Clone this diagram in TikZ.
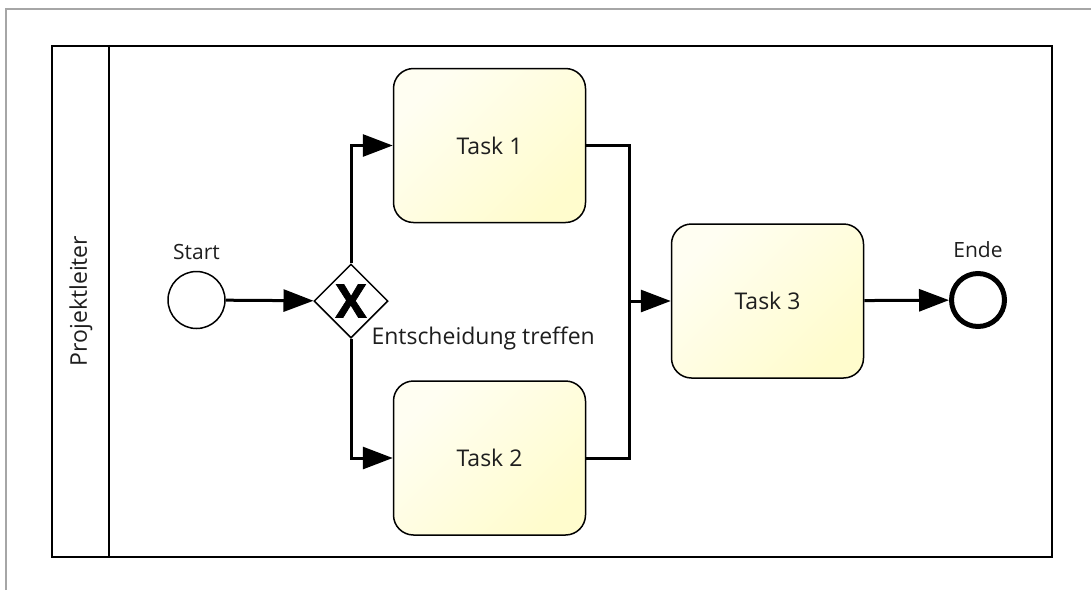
\documentclass[tikz,border=0pt]{standalone}
\usepackage{fontspec}
\setmainfont{Open Sans}
\newfontfamily\gwfont[FakeBold=1.5]{Open Sans}
\usetikzlibrary{shapes.geometric, arrows.meta}

\definecolor{taskfill}{RGB}{255,252,205}
\definecolor{txtcol}{RGB}{30,30,30}

\begin{document}
\begin{tikzpicture}[x=1pt, y=-1pt,
	txt/.style={text=txtcol, font=\fontsize{23}{27}\selectfont},
	small/.style={text=txtcol, font=\fontsize{21}{25}\selectfont},
	task/.style={draw, rounded corners=20pt, line width=1.5pt, minimum width=192pt, minimum height=154pt, left color=taskfill!25, right color=taskfill, shading angle=45, txt},
	event/.style={draw, circle, fill=white, inner sep=0pt},
	gate/.style={draw, diamond, fill=white, line width=1.5pt, minimum width=74pt, minimum height=74pt, inner sep=0pt},
	flow/.style={line width=3pt, -{Triangle[length=30pt,width=22pt]}}]
\useasboundingbox (0,0) rectangle (1091,590);
\draw[gray!70, line width=1.5pt] (6,590) -- (6,9) -- (1091,9);
	% pool with one lane
	\node[draw, line width=2.5pt, minimum width=1000pt, minimum height=511pt, inner sep=0pt] (pool) at (552,301.5) {};
	\draw[line width=2.5pt] ([xshift=58pt]pool.north west) -- ([xshift=58pt]pool.south west);
	\node[txt, rotate=90] (lane) at (81,301) {Projektleiter};
	%
	\node[event, line width=1.5pt, minimum size=57pt] (start) at (196.5,300) {};
	\node[small, above=8pt] (startlbl) at (start.north) {Start};
	\node[gate] (gw) at (351,301) {\gwfont\fontsize{46}{46}\selectfont\bfseries X};
	\node[txt, anchor=west] (gwlbl) at (368,338) {Entscheidung treffen};
	\node[task] (t1) at (489.5,145.5) {Task 1};
	\node[task] (t2) at (489.5,458) {Task 2};
	\node[task] (t3) at (767.5,301) {Task 3};
	\node[event, line width=5pt, minimum size=53pt] (ende) at (978,300) {};
	\node[small, above=10pt] (endelbl) at (ende.north) {Ende};
	\coordinate (join) at (629,301);
	%
	\draw[flow] (start) -- (gw);
	\draw[flow] (gw.north) |- (t1);
	\draw[flow] (gw.south) |- (t2);
	\draw[line width=3pt] (t1.east) -| (join);
	\draw[line width=3pt] (t2.east) -| (join);
	\draw[flow] (join) -- (t3);
	\draw[flow] (t3) -- (ende);
\end{tikzpicture}
\end{document}
